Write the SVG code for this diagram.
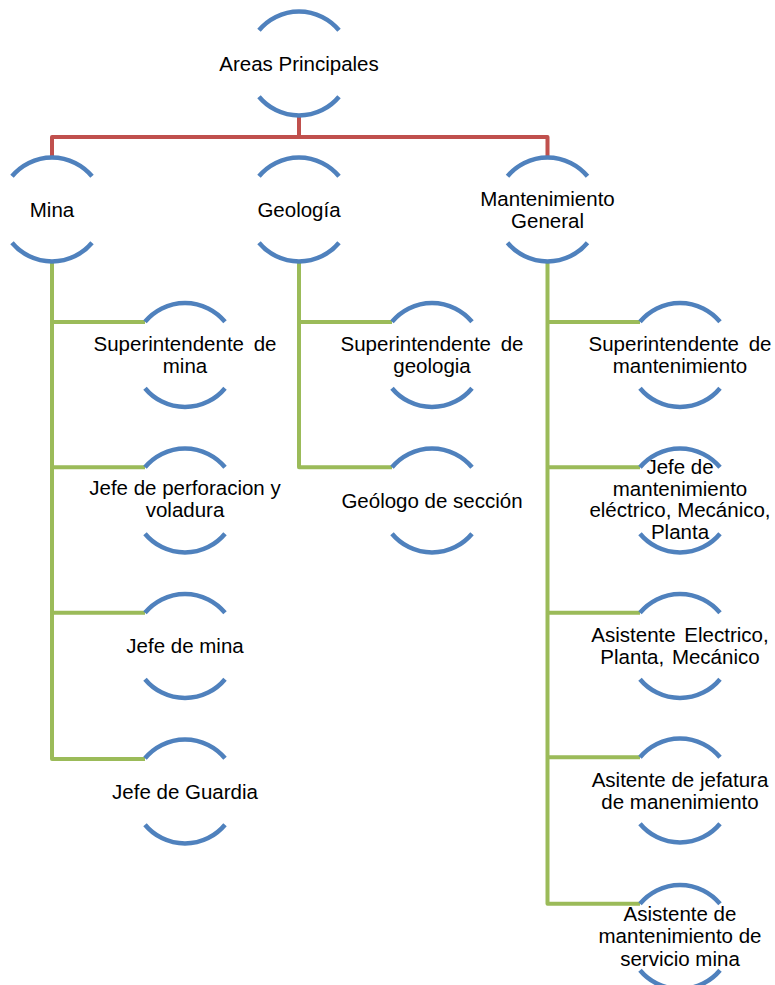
<svg xmlns="http://www.w3.org/2000/svg" xmlns:xlink="http://www.w3.org/1999/xlink" width="775" height="985" viewBox="0 0 775 985">
<style>
.ring{fill:none;stroke:#4F81BD;stroke-width:4.5;stroke-linecap:butt}
.red{fill:none;stroke:#C0504D;stroke-width:4;stroke-linejoin:round}
.green{fill:none;stroke:#9BBB59;stroke-width:4;stroke-linejoin:round}
text{font-family:"Liberation Sans",Arial,sans-serif;font-size:20.5px;fill:#000;text-anchor:middle}
</style>
<defs>
<path id="ring" class="ring" d="M -40 -33.2 A 52 52 0 0 1 40 -33.2 M -40 33.2 A 52 52 0 0 0 40 33.2"/>
</defs>
<rect width="775" height="985" fill="#fff"/>
<g id="connectors">
<path class="red" d="M299 115.5 V137 M52 157.5 V137 H547.5 V157.5"/>
<path class="green" d="M52 261.5 V759 H145 M52 322 H145 M52 467.3 H145 M52 612.8 H145"/>
<path class="green" d="M299 261.5 V467.3 H392 M299 322 H392"/>
<path class="green" d="M547.5 261.5 V903.8 H640 M547.5 322 H640 M547.5 467.3 H640 M547.5 612.8 H640 M547.5 757.3 H640"/>
</g>
<g id="n-root"><use xlink:href="#ring" x="299" y="63.5"/><text x="299" y="70.5">Areas Principales</text></g>
<g id="n-mina"><use xlink:href="#ring" x="52" y="209.5"/><text x="52" y="216.5">Mina</text></g>
<g id="n-geologia"><use xlink:href="#ring" x="299" y="209.5"/><text x="299" y="216.5">Geología</text></g>
<g id="n-mant"><use xlink:href="#ring" x="547.5" y="209.5"/><text x="547.5" y="205.5">Mantenimiento</text><text x="547.5" y="227.5">General</text></g>
<g id="n-sup-mina"><use xlink:href="#ring" x="185" y="355"/><text x="185" y="351" word-spacing="4">Superintendente de</text><text x="185" y="373">mina</text></g>
<g id="n-perf"><use xlink:href="#ring" x="185" y="500.5"/><text x="185" y="495">Jefe de perforacion y</text><text x="185" y="517">voladura</text></g>
<g id="n-jefe-mina"><use xlink:href="#ring" x="185" y="646"/><text x="185" y="653">Jefe de mina</text></g>
<g id="n-guardia"><use xlink:href="#ring" x="185" y="791.5"/><text x="185" y="798.5">Jefe de Guardia</text></g>
<g id="n-sup-geo"><use xlink:href="#ring" x="432" y="355"/><text x="432" y="351" word-spacing="4">Superintendente de</text><text x="432" y="373">geologia</text></g>
<g id="n-geologo"><use xlink:href="#ring" x="432" y="500.5"/><text x="432" y="507.5">Geólogo de sección</text></g>
<g id="n-sup-mant"><use xlink:href="#ring" x="680" y="355"/><text x="680" y="351" word-spacing="4">Superintendente de</text><text x="680" y="373">mantenimiento</text></g>
<g id="n-jefe-mant"><use xlink:href="#ring" x="680" y="500.5"/><text x="680" y="474">Jefe de</text><text x="680" y="495.5">mantenimiento</text><text x="680" y="517">eléctrico, Mecánico,</text><text x="680" y="538.5">Planta</text></g>
<g id="n-asist-elec"><use xlink:href="#ring" x="680" y="646"/><text x="680" y="642" word-spacing="3">Asistente Electrico,</text><text x="680" y="664" word-spacing="2">Planta, Mecánico</text></g>
<g id="n-asist-jef"><use xlink:href="#ring" x="680" y="790.5"/><text x="680" y="786.5">Asitente de jefatura</text><text x="680" y="808.5">de manenimiento</text></g>
<g id="n-asist-serv"><use xlink:href="#ring" x="680" y="937"/><text x="680" y="920.5">Asistente de</text><text x="680" y="943">mantenimiento de</text><text x="680" y="965.5">servicio mina</text></g>
</svg>
